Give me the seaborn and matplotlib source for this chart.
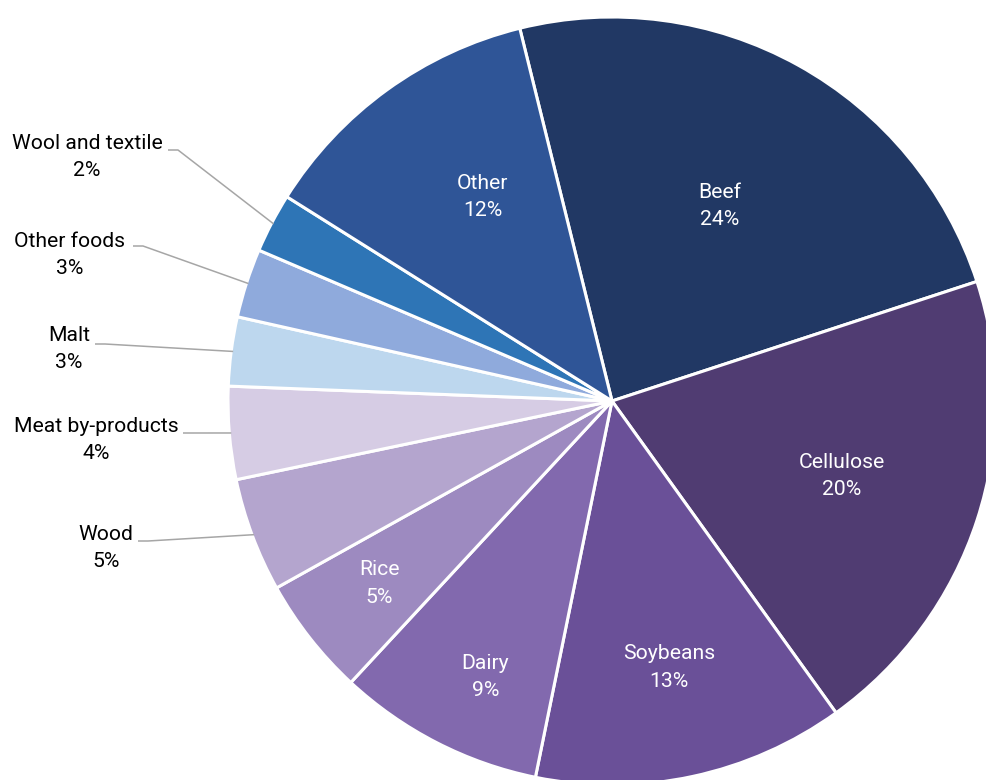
import numpy as np
import matplotlib.pyplot as plt
import seaborn as sns

# slice data (share of total, %), clockwise from "Beef"
categories = ['Beef', 'Cellulose', 'Soybeans', 'Dairy', 'Rice', 'Wood',
              'Meat by-products', 'Malt', 'Other foods', 'Wool and textile', 'Other']
values = [23.8, 20.1, 13.1, 8.7, 5.0, 4.8, 3.9, 2.9, 2.9, 2.5, 12.2]
pct_labels = ['24%', '20%', '13%', '9%', '5%', '5%', '4%', '3%', '3%', '2%', '12%']

colors = ['#213864', '#503C72', '#6A5098', '#8269AE', '#9D8AC0', '#B4A5CE',
          '#D6CCE4', '#BDD7EE', '#8FAADC', '#2E75B6', '#2F5597']

sns.set_theme(style='white')
plt.rcParams['font.family'] = ['Roboto', 'DejaVu Sans']

W, H = 986, 780
fig = plt.figure(figsize=(W / 100, H / 100), dpi=100)
ax = fig.add_axes([0, 0, 1, 1])

cx, cy, r = 612, H - 401, 384
wedges, _ = ax.pie(values, colors=colors, startangle=103.9, counterclock=False,
                   center=(cx, cy), radius=r,
                   wedgeprops=dict(edgecolor='white', linewidth=2.2))
ax.set_xlim(0, W)
ax.set_ylim(0, H)
ax.set_aspect('equal')
ax.axis('off')

# labels inside the big slices: (fraction of radius, angle shift in degrees)
inside = {'Beef': (0.58, 0), 'Cellulose': (0.63, 0), 'Soybeans': (0.71, 0),
          'Dairy': (0.79, 2.5), 'Rice': (0.77, 0), 'Other': (0.63, -3.5)}
# outside labels: text centre and leader start, in pixel coords from top
outside = {'Wool and textile': ((87, 157), (168, 150)),
           'Other foods': ((70, 255), (133, 246)),
           'Malt': ((69, 349), (95, 344)),
           'Meat by-products': ((96, 440), (183, 433)),
           'Wood': ((106, 548), (138, 541))}

for w, name, pct in zip(wedges, categories, pct_labels):
    mid = np.deg2rad((w.theta1 + w.theta2) / 2)
    if name in inside:
        f, shift = inside[name]
        a = mid + np.deg2rad(shift)
        ax.text(cx + f * r * np.cos(a), cy + f * r * np.sin(a),
                f'{name}\n{pct}', color='white', fontsize=15.2,
                ha='center', va='center', linespacing=1.55)
    else:
        (tx, ty), (lx, ly) = outside[name]
        ax.text(tx, H - ty, f'{name}\n{pct}', color='black', fontsize=15.2,
                ha='center', va='center', linespacing=1.55)
        ex = cx + 0.995 * r * np.cos(mid)
        ey = cy + 0.995 * r * np.sin(mid)
        ax.plot([lx, lx + 10, ex], [H - ly, H - ly, ey],
                color='#A6A6A6', lw=1.1, solid_capstyle='butt')

fig.savefig('out.png', dpi=100)
